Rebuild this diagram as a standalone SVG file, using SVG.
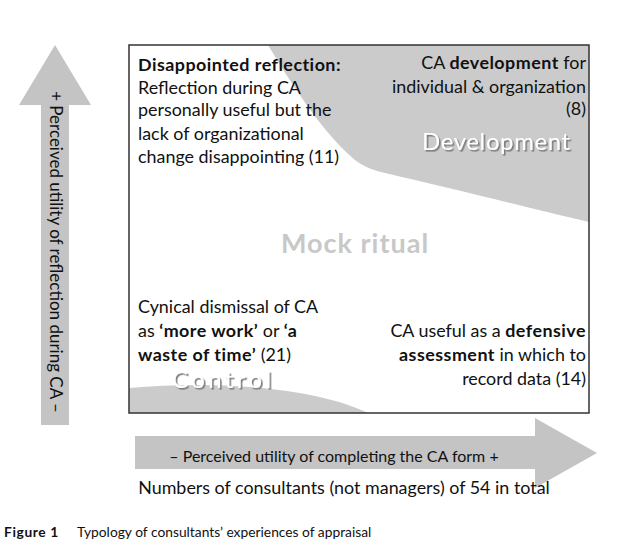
<svg xmlns="http://www.w3.org/2000/svg" width="630" height="555" viewBox="0 0 630 555">
<style>
  text { font-family: "Lato", "Liberation Sans", sans-serif; fill: #111; }
  .q { font-size: 17.9px; }
  .b { font-weight: bold; letter-spacing: 0.47px; }
  .axis { font-size: 16px; }
  .region { fill: #cbcbcb; }
  .arrow { fill: #c4c4c4; }
  .big { fill: #ffffff; filter: url(#sh); }
</style>
<defs>
  <filter id="sh" x="-10%" y="-20%" width="130%" height="150%">
    <feDropShadow dx="1.6" dy="1.6" stdDeviation="0.4" flood-color="#7a7a7a" flood-opacity="1"/>
  </filter>
</defs>
<rect width="630" height="555" fill="#ffffff"/>

<g id="development-region">
  <path class="region" d="M268,45 C295,90 325,135 355,160 Q366,169 385,173 C450,188 530,208 589,222 L589,45 Z"/>
</g>
<g id="control-region">
  <path class="region" d="M129,388 C220,380 315,388 368,413 L129,413 Z"/>
</g>

<g id="frame">
  <rect x="129" y="45" width="460" height="368" fill="none" stroke="#333" stroke-width="1.5"/>
</g>

<g id="vertical-axis">
  <path class="arrow" d="M55,45 L91,105 L69,105 L69,425 L41,425 L41,105 L19,105 Z"/>
  <text class="axis" transform="translate(50,252) rotate(90)" text-anchor="middle" style="font-size:17px">+ Perceived utility of reflection during CA –</text>
</g>

<g id="horizontal-axis">
  <path class="arrow" d="M135,436 L535,436 L535,418 L597,453 L535,488 L535,469 L135,469 Z"/>
  <text class="axis" x="334" y="462" text-anchor="middle">– Perceived utility of completing the CA form +</text>
  <text class="q" x="344" y="494" text-anchor="middle">Numbers of consultants (not managers) of 54 in total</text>
</g>

<g id="disappointed-reflection">
  <text class="q b" x="138" y="71">Disappointed reflection:</text>
  <text class="q" x="138" y="94">Reflection during CA</text>
  <text class="q" x="138" y="116">personally useful but the</text>
  <text class="q" x="138" y="140">lack of  organizational</text>
  <text class="q" x="138" y="163">change disappointing (11)</text>
</g>

<g id="development">
  <text class="q" x="586" y="69" text-anchor="end">CA <tspan class="b">development</tspan> for</text>
  <text class="q" x="586" y="93" text-anchor="end">individual &amp; organization</text>
  <text class="q" x="586" y="115" text-anchor="end">(8)</text>
  <text class="big" x="422" y="150" style="font-size:24px; letter-spacing:0.6px">Development</text>
</g>

<g id="mock-ritual">
  <text x="355" y="253" text-anchor="middle" font-size="27" font-weight="bold" letter-spacing="1" style="fill:#c8c8c8">Mock ritual</text>
</g>

<g id="control">
  <text class="q" x="138" y="313">Cynical dismissal of CA</text>
  <text class="q" x="138" y="337">as <tspan class="b">‘more work’</tspan> or <tspan class="b">‘a</tspan></text>
  <text class="q" x="138" y="361"><tspan class="b">waste of time’</tspan> (21)</text>
  <text class="big" x="172" y="388" style="font-size:24px; letter-spacing:3.4px">Control</text>
</g>

<g id="defensive-assessment">
  <text class="q" x="586" y="337" text-anchor="end">CA useful as a <tspan class="b">defensive</tspan></text>
  <text class="q" x="586" y="361" text-anchor="end"><tspan class="b">assessment</tspan> in which to</text>
  <text class="q" x="586" y="385" text-anchor="end">record data (14)</text>
</g>

<g id="caption">
  <text x="4" y="537" font-size="13.8" font-weight="bold" letter-spacing="0.6">Figure 1</text>
  <text x="77" y="537" font-size="13.8">Typology of consultants’ experiences of appraisal</text>
</g>
</svg>
